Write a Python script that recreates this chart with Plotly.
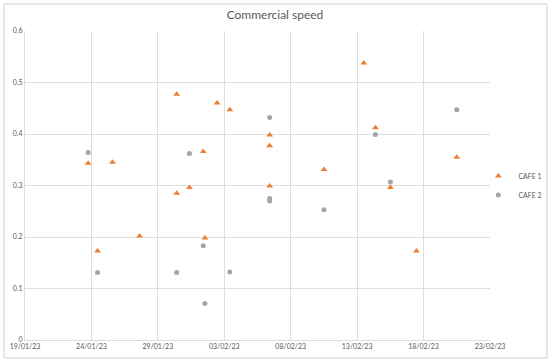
import plotly.graph_objects as go

# CAFE 1 (triangles)
cafe1_dates = ["2023-01-23 18:00", "2023-01-24 11:00", "2023-01-25 14:00", "2023-01-27 15:00",
               "2023-01-30 10:00", "2023-01-30 10:00", "2023-01-31 09:00", "2023-02-01 10:00",
               "2023-02-01 13:00", "2023-02-02 11:00", "2023-02-03 10:00", "2023-02-06 10:00",
               "2023-02-06 10:00", "2023-02-06 10:00", "2023-02-10 12:00", "2023-02-13 12:00",
               "2023-02-14 09:00", "2023-02-15 12:00", "2023-02-17 11:00", "2023-02-20 12:00"]
cafe1_values = [0.343, 0.173, 0.345, 0.202, 0.285, 0.477, 0.296, 0.366, 0.198, 0.460,
                0.447, 0.398, 0.377, 0.299, 0.331, 0.538, 0.412, 0.296, 0.173, 0.355]

# CAFE 2 (circles)
cafe2_dates = ["2023-01-23 18:00", "2023-01-24 11:00", "2023-01-30 10:00", "2023-01-31 09:00",
               "2023-02-01 10:00", "2023-02-01 13:00", "2023-02-03 10:00", "2023-02-06 10:00",
               "2023-02-06 10:00", "2023-02-06 10:00", "2023-02-10 12:00", "2023-02-14 09:00",
               "2023-02-15 12:00", "2023-02-20 12:00"]
cafe2_values = [0.364, 0.131, 0.131, 0.362, 0.183, 0.071, 0.132, 0.432, 0.275, 0.270,
                0.253, 0.399, 0.307, 0.447]

tick_dates = ["2023-01-19", "2023-01-24", "2023-01-29", "2023-02-03",
              "2023-02-08", "2023-02-13", "2023-02-18", "2023-02-23"]
tick_labels = ["19/01/23", "24/01/23", "29/01/23", "03/02/23",
               "08/02/23", "13/02/23", "18/02/23", "23/02/23"]
y_ticks = [0, 0.1, 0.2, 0.3, 0.4, 0.5, 0.6]
y_labels = ["0", "0.1", "0.2", "0.3", "0.4", "0.5", "0.6"]

FONT = "Lato, 'Open Sans', sans-serif"
GRID = "#DDDDDD"
TXT = "#595959"

fig = go.Figure()
fig.add_trace(go.Scatter(x=cafe1_dates, y=cafe1_values, mode="markers", name="CAFE 1",
                         marker=dict(symbol="triangle-up", size=6, color="#ED7D31")))
fig.add_trace(go.Scatter(x=cafe2_dates, y=cafe2_values, mode="markers", name="CAFE 2",
                         marker=dict(symbol="circle", size=5, color="#A5A5A5")))

fig.update_layout(
    width=550, height=362,
    margin=dict(l=25, r=60, t=31, b=22, autoexpand=False),
    paper_bgcolor="white", plot_bgcolor="white",
    font=dict(family=FONT, color=TXT, size=7),
    title=dict(text="Commercial speed", x=0.5, xanchor="center", y=1 - 15 / 362,
               yanchor="middle", font=dict(size=12, color=TXT, family=FONT)),
    showlegend=True,
    legend=dict(x=0.975, xanchor="left", y=0.5, yanchor="middle",
                font=dict(size=7, color=TXT), itemwidth=30, tracegroupgap=0,
                bgcolor="rgba(0,0,0,0)"),
    xaxis=dict(type="date", range=["2023-01-19", "2023-02-23"],
               tickvals=tick_dates, ticktext=tick_labels,
               showgrid=True, gridcolor=GRID, gridwidth=1,
               showline=True, linecolor=GRID, linewidth=1, mirror=False,
               ticks="", tickfont=dict(size=7, color=TXT), zeroline=False),
    yaxis=dict(range=[0, 0.6], tickvals=y_ticks, ticktext=y_labels,
               showgrid=True, gridcolor=GRID, gridwidth=1,
               showline=True, linecolor=GRID, linewidth=1,
               ticks="", ticklen=0, tickfont=dict(size=7, color=TXT), zeroline=False),
    shapes=[dict(type="rect", xref="paper", yref="paper",
                 x0=-21 / 465, x1=522 / 465, y0=-18 / 309, y1=336 / 309,
                 line=dict(color="#D0D0D0", width=1), fillcolor="rgba(0,0,0,0)", layer="above")],
)

fig.write_html("out.html", config={"displayModeBar": False},
               post_script="document.body.style.margin='0';")
